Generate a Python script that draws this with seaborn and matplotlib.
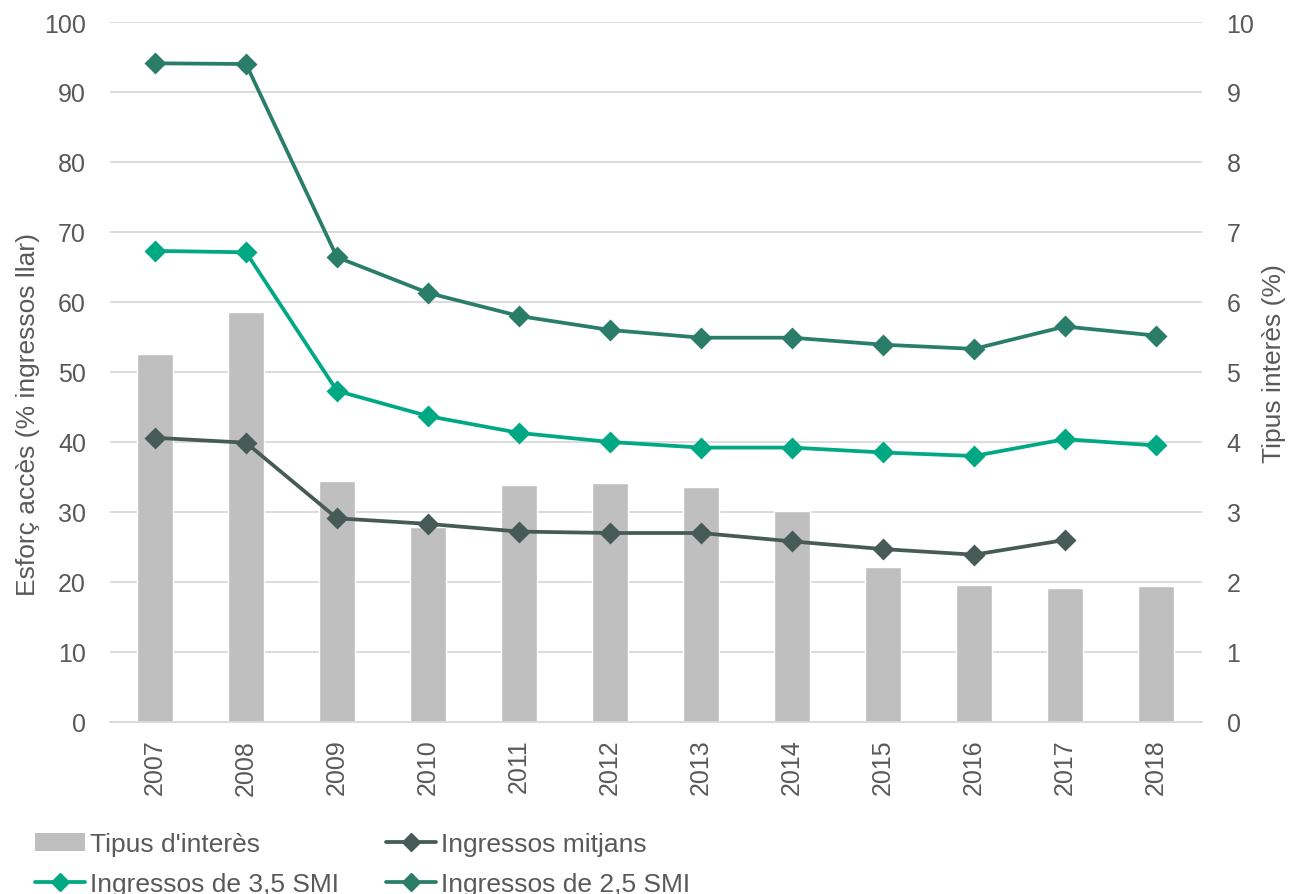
import numpy as np
import pandas as pd
import matplotlib
matplotlib.use("Agg")
import matplotlib.pyplot as plt
from matplotlib.lines import Line2D
from matplotlib.patches import Patch
import seaborn as sns

# ---- data -------------------------------------------------------------
years = ["2007", "2008", "2009", "2010", "2011", "2012",
         "2013", "2014", "2015", "2016", "2017", "2018"]
tipus_interes = [5.25, 5.85, 3.44, 2.78, 3.38, 3.41, 3.36, 3.01, 2.22, 1.96, 1.92, 1.94]
ingressos_mitjans = [40.6, 39.9, 29.1, 28.3, 27.2, 27.0, 27.0, 25.8, 24.7, 23.9, 26.0, np.nan]
ingressos_35_smi = [67.3, 67.1, 47.3, 43.7, 41.3, 40.0, 39.2, 39.2, 38.5, 38.0, 40.4, 39.5]
ingressos_25_smi = [94.1, 94.0, 66.4, 61.3, 58.0, 56.0, 54.9, 54.9, 53.9, 53.3, 56.5, 55.2]

left_ticks = list(range(0, 101, 10))
right_ticks = list(range(0, 11, 1))

label_bar = "Tipus d'interès"
label_mitjans = "Ingressos mitjans"
label_35 = "Ingressos de 3,5 SMI"
label_25 = "Ingressos de 2,5 SMI"

# ---- style ------------------------------------------------------------
sns.set_style("white")
plt.rcParams["font.family"] = ["Liberation Sans", "DejaVu Sans"]

TEXT = "#595959"
GRID = "#D9D9D9"
BAR = "#BFBFBF"
C_MITJANS = "#475B56"
C_35 = "#00A883"
C_25 = "#2A7E69"

fig = plt.figure(figsize=(12.9, 8.95), dpi=100)
ax = fig.add_axes([0.0849, 0.1922, 0.8465, 0.7821])   # lines, left scale
ax2 = ax.twinx()                                        # bars, right scale
ax.set_zorder(ax2.get_zorder() + 1)
ax.patch.set_visible(False)

# bars: interest rate on the right axis
bars_df = pd.DataFrame({"year": years, "tipus": tipus_interes})
sns.barplot(data=bars_df, x="year", y="tipus", color=BAR, saturation=1,
            width=0.4, ax=ax2, zorder=2)

# lines: access effort on the left axis
for values, color in [(ingressos_mitjans, C_MITJANS),
                      (ingressos_35_smi, C_35),
                      (ingressos_25_smi, C_25)]:
    df = pd.DataFrame({"year": years, "value": values})
    sns.pointplot(data=df, x="year", y="value", color=color, markers="D",
                  linestyles="-", errorbar=None, markersize=9, linewidth=2.7,
                  ax=ax)

ax.set_xlim(-0.5, len(years) - 0.5)
ax.set_ylim(0, 100)
ax2.set_ylim(0, 10)
ax.set_yticks(left_ticks)
ax2.set_yticks(right_ticks)

ax2.grid(axis="y", color=GRID, linewidth=1.3)
ax2.grid(axis="x", visible=False)
ax.grid(False)
ax2.set_axisbelow(True)

for a in (ax, ax2):
    for s in a.spines.values():
        s.set_visible(False)
ax.spines["bottom"].set_visible(True)
ax.spines["bottom"].set_color(GRID)
ax.spines["bottom"].set_linewidth(1.3)

ax.tick_params(axis="y", length=0, pad=17, labelsize=18, labelcolor=TEXT)
ax2.tick_params(axis="y", length=0, pad=18, labelsize=18, labelcolor=TEXT)
ax.tick_params(axis="x", length=0, pad=12, labelsize=18, labelcolor=TEXT,
               labelrotation=90)

ax.set_xlabel("")
ax2.set_xlabel("")
ax.set_ylabel("Esforç accès (% ingressos llar)", fontsize=19, color=TEXT)
ax2.set_ylabel("Tipus interès (%)", fontsize=19, color=TEXT)
ax.yaxis.set_label_coords(-0.0636, 0.44)
ax2.yaxis.set_label_coords(1.0554, 0.514)

# legend at the foot of the figure, two rows of two
handles = [
    Patch(facecolor=BAR, edgecolor="none"),
    Line2D([], [], color=C_35, lw=2.7, marker="D", markersize=9),
    Line2D([], [], color=C_MITJANS, lw=2.7, marker="D", markersize=9),
    Line2D([], [], color=C_25, lw=2.7, marker="D", markersize=9),
]
labels = [label_bar, label_35, label_mitjans, label_25]
leg = fig.legend(handles, labels, loc="upper left",
                 bbox_to_anchor=(35 / 1290, 1 - 833 / 895),
                 bbox_transform=fig.transFigure, ncol=2, frameon=False,
                 fontsize=19, borderpad=0, borderaxespad=0,
                 handlelength=1.9, handletextpad=0.2, columnspacing=1.75,
                 labelspacing=0.62)
for t in leg.get_texts():
    t.set_color(TEXT)

fig.savefig("out.png", dpi=100)
